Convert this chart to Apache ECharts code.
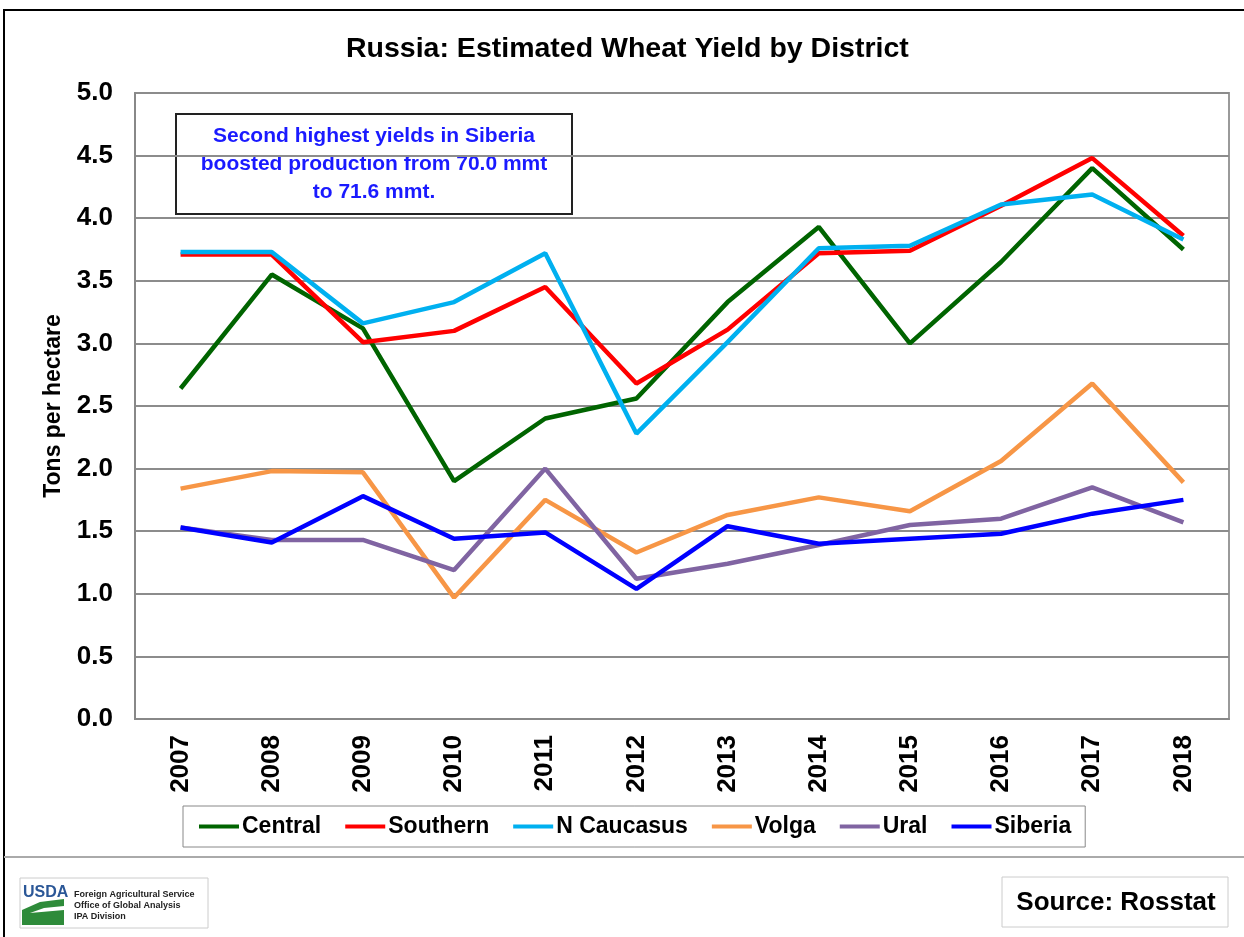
<!DOCTYPE html>
<html>
<head>
<meta charset="utf-8">
<script src="https://cdn.jsdelivr.net/npm/echarts@6/dist/echarts.min.js"></script>
<style>
html,body{margin:0;padding:0;background:#fff;}
#chart{width:1244px;height:937px;}
</style>
</head>
<body>
<div id="chart"></div>
<script>
var years = ['2007','2008','2009','2010','2011','2012','2013','2014','2015','2016','2017','2018'];
var central   = [2.64, 3.55, 3.12, 1.90, 2.40, 2.56, 3.33, 3.93, 3.00, 3.65, 4.40, 3.75];
var southern  = [3.71, 3.71, 3.01, 3.10, 3.45, 2.68, 3.11, 3.72, 3.74, 4.10, 4.48, 3.86];
var nCaucasus = [3.73, 3.73, 3.16, 3.33, 3.72, 2.28, 3.01, 3.76, 3.78, 4.11, 4.19, 3.83];
var volga     = [1.84, 1.98, 1.97, 0.97, 1.75, 1.33, 1.63, 1.77, 1.66, 2.06, 2.68, 1.89];
var ural      = [1.53, 1.43, 1.43, 1.19, 2.00, 1.12, 1.24, 1.39, 1.55, 1.60, 1.85, 1.57];
var siberia   = [1.53, 1.41, 1.78, 1.44, 1.49, 1.04, 1.54, 1.40, 1.44, 1.48, 1.64, 1.75];
var yTicks = [0, 0.5, 1.0, 1.5, 2.0, 2.5, 3.0, 3.5, 4.0, 4.5, 5.0];

var FONT = '"Liberation Sans", Arial, sans-serif';
var seriesDefs = [
  {name:'Central', data:central, color:'#006400'},
  {name:'Southern', data:southern, color:'#ff0000'},
  {name:'N Caucasus', data:nCaucasus, color:'#00b0f0'},
  {name:'Volga', data:volga, color:'#f79646'},
  {name:'Ural', data:ural, color:'#8064a2'},
  {name:'Siberia', data:siberia, color:'#0000ff'}
];

var chart = echarts.init(document.getElementById('chart'), null, {renderer:'canvas'});
chart.setOption({
  animation:false,
  backgroundColor:'#fff',
  textStyle:{fontFamily:FONT},
  title:{
    text:'Russia: Estimated Wheat Yield by District',
    left:341, top:30,
    textStyle:{fontFamily:FONT, fontSize:28.5, fontWeight:'bold', color:'#000'}
  },
  grid:{left:135, right:15, top:93, bottom:218, show:true, borderColor:'#9a9a9a', borderWidth:2},
  legend:{
    left:183, top:806, width:920,
    padding:[9,14,9,16],
    borderColor:'#888', borderWidth:1,
    itemWidth:40, itemHeight:4, itemGap:24,
    icon:'rect',
    textStyle:{fontFamily:FONT, fontSize:23, fontWeight:'bold', color:'#000', padding:[0,0,0,-2]},
    data: seriesDefs.map(function(s){return s.name;})
  },
  xAxis:{
    type:'category', data:years, boundaryGap:true,
    axisLine:{lineStyle:{color:'#888', width:2}},
    axisTick:{show:false},
    axisLabel:{rotate:90, margin:16, fontFamily:FONT, fontSize:26, fontWeight:'bold', color:'#000'},
    splitLine:{show:false}
  },
  yAxis:{
    type:'value', min:0, max:5, interval:0.5,
    name:'Tons per hectare', nameLocation:'middle', nameRotate:90, nameGap:70,
    nameTextStyle:{fontFamily:FONT, fontSize:23, fontWeight:'bold', color:'#000'},
    axisLine:{show:true, lineStyle:{color:'#888', width:2}},
    axisTick:{show:false},
    axisLabel:{margin:22, fontFamily:FONT, fontSize:26, fontWeight:'bold', color:'#000',
      formatter:function(v){return v.toFixed(1);}},
    splitLine:{lineStyle:{color:'#8c8c8c', width:2}}
  },
  series: seriesDefs.map(function(s){
    return {name:s.name, type:'line', data:s.data, symbol:'none',
      lineStyle:{color:s.color, width:4.5}, itemStyle:{color:s.color}};
  }),
  graphic:[
    {type:'rect', shape:{x:4, y:10, width:1260, height:960}, style:{fill:'none', stroke:'#000', lineWidth:2}, silent:true},
    {type:'line', shape:{x1:4, y1:857, x2:1244, y2:857}, style:{stroke:'#aaa', lineWidth:2}, silent:true},
    {type:'group', children:[
      {type:'rect', shape:{x:176, y:114, width:396, height:100}, style:{fill:'#fff', stroke:'#222', lineWidth:2}},
      {type:'text', style:{x:374, y:164, text:'Second highest yields in Siberia\nboosted production from 70.0 mmt\nto 71.6 mmt.',
        textAlign:'center', textVerticalAlign:'middle', fill:'#1a1aff', fontFamily:FONT, fontSize:21, fontWeight:'bold', lineHeight:28}}
    ]},
    {type:'group', children:[
      {type:'rect', shape:{x:20, y:878, width:188, height:50}, style:{fill:'#fff', stroke:'#ccc', lineWidth:1}},
      {type:'text', style:{x:23, y:893, text:'USDA', fill:'#2b5797', fontFamily:FONT, fontSize:16, fontWeight:'bold', textVerticalAlign:'middle'}},
      {type:'polygon', shape:{points:[[22,925],[22,910],[40,902],[64,899],[64,906],[44,908],[30,913],[64,910],[64,925]]}, style:{fill:'#2e8b3a'}},
      {type:'text', style:{x:74, y:889, text:'Foreign Agricultural Service\nOffice of Global Analysis\nIPA Division',
        fill:'#222', fontFamily:FONT, fontSize:9, fontWeight:'bold', lineHeight:11, textVerticalAlign:'top'}}
    ]},
    {type:'group', children:[
      {type:'rect', shape:{x:1002, y:877, width:226, height:50}, style:{fill:'#fff', stroke:'#ccc', lineWidth:1}},
      {type:'text', style:{x:1116, y:903, text:'Source: Rosstat', textAlign:'center', textVerticalAlign:'middle', fill:'#000', fontFamily:FONT, fontSize:26, fontWeight:'bold'}}
    ]}
  ]
});
</script>
</body>
</html>
